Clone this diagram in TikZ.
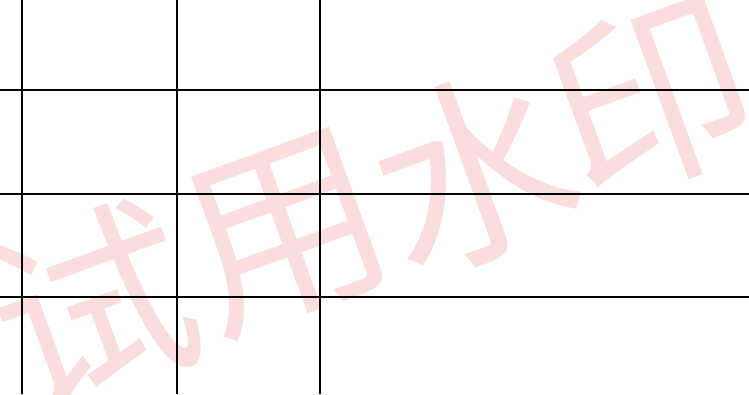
\documentclass[tikz,border=0pt]{standalone}
\usepackage{fontspec}
\newfontfamily\cjk{Noto Sans CJK SC}
\definecolor{wm}{RGB}{250,221,221}
\begin{document}
\begin{tikzpicture}[x=1pt,y=-1pt,grid/.style={draw=black,line width=1.1pt},
  wmchar/.style={text=wm,rotate=20,inner sep=0pt,font=\cjk\fontsize{200}{200}\selectfont}]
\useasboundingbox[fill=white] (0,0) rectangle (749,394);
\node[wmchar] (w1) at (93,306) {试};
\node[wmchar] (w2) at (286,234) {用};
\node[wmchar] (w3) at (474,171) {水};
\node[wmchar] (w4) at (652,98) {印};
\coordinate (v1t) at (22,0); \coordinate (v1b) at (22,394);
\coordinate (v2t) at (177,0); \coordinate (v2b) at (177,394);
\coordinate (v3t) at (320,0); \coordinate (v3b) at (320,394);
\coordinate (h1l) at (0,90); \coordinate (h1r) at (749,90);
\coordinate (h2l) at (0,194); \coordinate (h2r) at (749,194);
\coordinate (h3l) at (0,297); \coordinate (h3r) at (749,297);
\draw[grid] (v1t) -- (v1b);
\draw[grid] (v2t) -- (v2b);
\draw[grid] (v3t) -- (v3b);
\draw[grid] (h1l) -- (h1r);
\draw[grid] (h2l) -- (h2r);
\draw[grid] (h3l) -- (h3r);
\end{tikzpicture}
\end{document}
